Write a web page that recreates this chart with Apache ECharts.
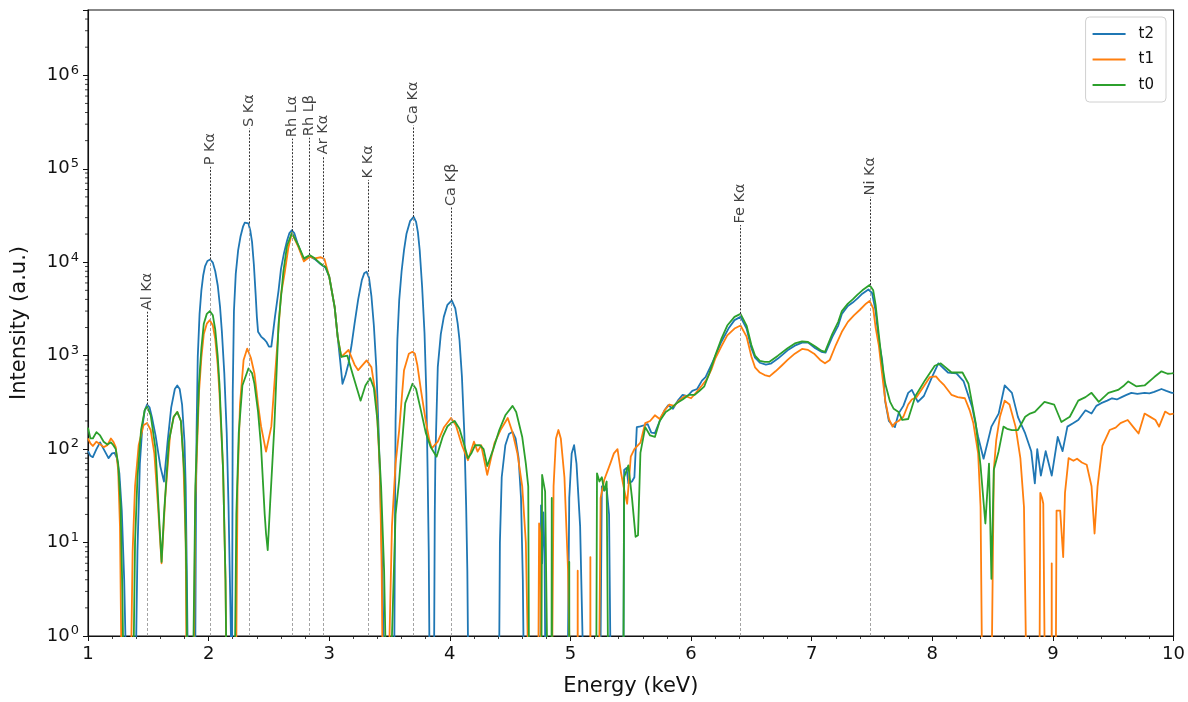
<!DOCTYPE html>
<html>
<head>
<meta charset="utf-8">
<script src="https://cdn.jsdelivr.net/npm/echarts@6/dist/echarts.min.js"></script>
<style>
  html, body { margin: 0; padding: 0; background: #fff; }
  #chart { width: 1188px; height: 702px; }
</style>
</head>
<body>
<div id="chart"></div>
<script>
// Off-scale reading (non-positive intensity, clipped below the log axis)
const OFF = 1e-3;

// XRF spectra: [energy keV, intensity a.u.]
const t2 = [
  [1.00,95],[1.02,85],[1.04,82],[1.07,100],[1.10,118],[1.13,100],[1.17,80],[1.20,90],[1.22,91],[1.24,80],[1.26,55],[1.28,22],[1.30,4],[1.31,1],[1.315,OFF],
  [1.395,OFF],[1.40,1],[1.41,8],[1.43,70],[1.45,170],[1.47,260],[1.49,300],[1.51,280],[1.53,220],[1.56,140],[1.60,65],[1.63,45],[1.66,120],[1.69,280],[1.72,440],[1.74,480],[1.76,440],[1.78,300],[1.80,120],[1.81,40],[1.82,4],[1.825,1],[1.83,OFF],
  [1.885,OFF],[1.89,1],[1.895,20],[1.90,150],[1.91,970],[1.925,2800],[1.94,5000],[1.955,7200],[1.97,9000],[1.99,10300],[2.013,10700],[2.035,9900],[2.055,8000],[2.076,5600],[2.095,3300],[2.11,1800],[2.13,650],[2.15,150],[2.165,25],[2.175,5],[2.185,1],[2.19,OFF],
  [2.195,1],[2.20,400],[2.21,3000],[2.225,7500],[2.245,13500],[2.265,19000],[2.285,24000],[2.30,26500],[2.315,27000],[2.33,26000],[2.345,22000],[2.36,16500],[2.375,9500],[2.39,4500],[2.40,2600],[2.41,1800],[2.435,1600],[2.46,1500],[2.48,1400],[2.50,1250],[2.52,1250],[2.55,2600],[2.58,5000],[2.60,8500],[2.625,12500],[2.65,17000],[2.67,20500],[2.69,22000],[2.71,20500],[2.74,15500],[2.79,10500],[2.84,11500],[2.88,10800],[2.93,9500],[2.97,8700],[3.00,7000],[3.045,3300],[3.07,1590],[3.09,900],[3.11,500],[3.135,620],[3.16,830],[3.185,1300],[3.21,2200],[3.24,4000],[3.27,6400],[3.29,7600],[3.31,7900],[3.33,6800],[3.35,4300],[3.37,2100],[3.39,760],[3.41,150],[3.425,30],[3.44,5],[3.45,1],[3.455,OFF],
  [3.535,OFF],[3.54,1],[3.55,200],[3.565,1500],[3.58,3900],[3.60,8000],[3.62,13500],[3.64,20000],[3.67,27500],[3.70,30500],[3.72,27000],[3.735,21000],[3.75,13500],[3.77,5500],[3.79,1740],[3.805,400],[3.815,65],[3.825,8],[3.83,1],[3.835,OFF],
  [3.865,OFF],[3.87,1],[3.875,20],[3.88,80],[3.90,760],[3.925,1700],[3.95,2600],[3.98,3500],[4.016,3900],[4.045,3200],[4.065,2200],[4.08,1470],[4.10,600],[4.12,148],[4.135,25],[4.145,5],[4.15,1],[4.155,OFF],
  [4.405,OFF],[4.41,1],[4.415,10],[4.43,50],[4.46,110],[4.49,145],[4.52,153],[4.545,130],[4.57,80],[4.59,30],[4.605,4],[4.61,1],[4.615,OFF],
  [4.75,OFF],[4.752,1],[4.756,25],[4.765,6],[4.775,21],[4.785,8],[4.79,1],[4.792,OFF],
  [4.975,OFF],[4.98,1],[4.99,30],[5.01,90],[5.03,110],[5.05,70],[5.08,15],[5.10,1],[5.105,OFF],
  [5.245,OFF],[5.25,1],[5.26,40],[5.28,36],[5.30,38],[5.32,20],[5.33,1],[5.335,OFF],
  [5.435,OFF],[5.44,1],[5.445,60],[5.465,63],[5.48,43],[5.51,45],[5.53,50],[5.55,172],[5.58,175],[5.61,180],[5.64,185],[5.67,150],[5.70,148],[5.74,200],[5.78,260],[5.81,295],[5.85,270],[5.89,330],[5.93,380],[5.97,370],[6.01,420],[6.05,440],[6.09,540],[6.12,590],[6.16,760],[6.20,980],[6.25,1400],[6.31,1950],[6.36,2400],[6.41,2600],[6.46,1950],[6.50,1200],[6.53,950],[6.57,840],[6.62,800],[6.66,820],[6.72,930],[6.80,1140],[6.86,1280],[6.92,1380],[6.97,1380],[7.03,1200],[7.08,1100],[7.115,1080],[7.17,1580],[7.22,2100],[7.25,2800],[7.30,3400],[7.34,3700],[7.38,4100],[7.42,4600],[7.47,5100],[7.50,4700],[7.53,3000],[7.556,1465],[7.584,900],[7.61,320],[7.64,200],[7.67,180],[7.69,172],[7.72,240],[7.76,290],[7.80,400],[7.83,430],[7.86,360],[7.88,320],[7.93,370],[8.00,600],[8.05,826],[8.13,660],[8.20,645],[8.26,530],[8.33,283],[8.38,135],[8.425,79],[8.49,174],[8.55,240],[8.60,480],[8.66,400],[8.71,220],[8.77,147],[8.82,95],[8.85,43],[8.87,100],[8.90,52],[8.94,95],[8.99,52],[9.04,135],[9.08,95],[9.12,174],[9.17,190],[9.21,205],[9.27,260],[9.32,240],[9.36,290],[9.40,310],[9.45,330],[9.49,350],[9.53,340],[9.57,360],[9.61,380],[9.65,400],[9.70,390],[9.76,400],[9.80,395],[9.84,410],[9.90,440],[9.94,420],[9.985,400],[10.0,400]
];

const t1 = [
  [1.00,130],[1.02,115],[1.04,108],[1.07,120],[1.10,113],[1.13,105],[1.16,110],[1.19,130],[1.21,120],[1.23,105],[1.25,60],[1.265,15],[1.275,1],[1.28,OFF],
  [1.355,OFF],[1.36,1],[1.37,8],[1.39,40],[1.42,110],[1.46,180],[1.49,190],[1.52,160],[1.55,90],[1.58,25],[1.61,6],[1.64,30],[1.68,140],[1.71,220],[1.74,250],[1.77,200],[1.79,80],[1.81,10],[1.815,1],[1.82,OFF],
  [1.875,OFF],[1.88,1],[1.89,30],[1.92,400],[1.94,950],[1.96,1700],[1.985,2200],[2.01,2400],[2.035,2100],[2.055,1500],[2.075,800],[2.09,400],[2.12,60],[2.14,4],[2.145,1],[2.15,OFF],
  [2.225,OFF],[2.23,1],[2.24,40],[2.26,300],[2.29,900],[2.32,1190],[2.35,950],[2.38,645],[2.41,300],[2.435,175],[2.476,94],[2.52,175],[2.55,600],[2.573,1500],[2.60,4500],[2.63,7600],[2.66,14000],[2.69,20500],[2.74,15000],[2.79,10200],[2.84,11500],[2.88,11000],[2.93,11300],[2.96,10800],[3.00,7000],[3.045,3300],[3.07,1590],[3.10,970],[3.16,1150],[3.21,800],[3.24,700],[3.31,890],[3.35,750],[3.39,350],[3.42,60],[3.435,5],[3.44,1],[3.445,OFF],
  [3.495,OFF],[3.50,1],[3.52,15],[3.55,70],[3.58,160],[3.62,700],[3.66,1050],[3.69,1100],[3.71,1050],[3.73,800],[3.76,430],[3.80,200],[3.83,125],[3.85,102],[3.90,120],[3.95,170],[4.01,215],[4.05,180],[4.10,110],[4.15,76],[4.20,120],[4.23,94],[4.26,110],[4.31,53],[4.37,116],[4.42,160],[4.48,215],[4.52,150],[4.56,90],[4.60,40],[4.63,10],[4.645,1],[4.65,OFF],
  [4.733,OFF],[4.735,1],[4.74,16],[4.75,12],[4.755,1],[4.757,OFF],
  [4.845,OFF],[4.85,1],[4.86,40],[4.88,130],[4.90,160],[4.92,130],[4.95,50],[4.98,5],[4.99,1],[4.995,OFF],
  [5.058,OFF],[5.06,5],[5.062,OFF],
  [5.163,OFF],[5.165,7],[5.167,OFF],
  [5.235,OFF],[5.24,1],[5.25,30],[5.28,47],[5.33,70],[5.36,90],[5.39,100],[5.42,55],[5.44,40],[5.47,26],[5.50,83],[5.53,100],[5.58,117],[5.62,190],[5.66,200],[5.70,230],[5.74,210],[5.78,260],[5.82,300],[5.86,290],[5.90,330],[5.95,370],[6.00,350],[6.04,400],[6.09,480],[6.13,560],[6.17,720],[6.20,930],[6.25,1250],[6.30,1650],[6.36,1950],[6.41,2100],[6.46,1600],[6.50,980],[6.53,750],[6.57,660],[6.61,620],[6.65,600],[6.70,680],[6.75,780],[6.80,900],[6.86,1050],[6.92,1180],[6.97,1150],[7.02,1050],[7.07,900],[7.11,830],[7.15,900],[7.20,1300],[7.25,1800],[7.30,2300],[7.35,2700],[7.40,3100],[7.45,3600],[7.48,3860],[7.51,3200],[7.53,2000],[7.556,1300],[7.58,700],[7.61,330],[7.64,210],[7.67,174],[7.69,190],[7.72,200],[7.76,222],[7.80,300],[7.83,340],[7.87,360],[7.92,450],[7.98,590],[8.03,600],[8.06,540],[8.10,480],[8.16,380],[8.21,360],[8.27,350],[8.31,260],[8.34,190],[8.38,90],[8.40,24],[8.41,1],[8.415,OFF],
  [8.49,OFF],[8.495,1],[8.51,60],[8.53,125],[8.56,220],[8.60,330],[8.64,300],[8.69,174],[8.73,80],[8.76,24],[8.775,1],[8.78,OFF],
  [8.885,OFF],[8.89,1],[8.895,34],[8.91,30],[8.92,26],[8.93,1],[8.935,OFF],
  [8.988,OFF],[8.99,6],[8.992,OFF],
  [9.02,OFF],[9.025,1],[9.03,22],[9.06,22],[9.085,7],[9.10,34],[9.13,80],[9.17,75],[9.20,79],[9.24,72],[9.28,68],[9.32,40],[9.345,12.5],[9.37,40],[9.41,108],[9.47,160],[9.52,170],[9.56,190],[9.62,205],[9.67,170],[9.71,147],[9.76,240],[9.81,220],[9.85,205],[9.88,174],[9.93,252],[9.97,235],[10.0,240]
];

const t0 = [
  [1.00,170],[1.02,130],[1.04,130],[1.07,152],[1.10,140],[1.13,120],[1.16,112],[1.19,118],[1.21,110],[1.23,100],[1.25,70],[1.27,25],[1.285,3],[1.29,1],[1.295,OFF],
  [1.375,OFF],[1.38,1],[1.39,10],[1.41,50],[1.44,160],[1.47,260],[1.49,284],[1.52,230],[1.56,100],[1.59,18],[1.61,6.2],[1.63,20],[1.67,120],[1.71,220],[1.74,250],[1.77,200],[1.80,50],[1.815,5],[1.82,1],[1.825,OFF],
  [1.87,OFF],[1.875,1],[1.89,40],[1.92,500],[1.94,1200],[1.96,2200],[1.985,2800],[2.01,3000],[2.035,2700],[2.055,1900],[2.075,1000],[2.09,500],[2.12,60],[2.14,4],[2.145,1],[2.15,OFF],
  [2.215,OFF],[2.22,1],[2.23,20],[2.25,150],[2.28,480],[2.33,730],[2.36,650],[2.38,500],[2.41,250],[2.435,105],[2.465,20],[2.476,12.5],[2.49,8.3],[2.51,26],[2.545,175],[2.58,2200],[2.62,8000],[2.65,15000],[2.69,20500],[2.74,15500],[2.79,11000],[2.84,11900],[2.88,11000],[2.93,9600],[2.97,8900],[3.00,7000],[3.045,3300],[3.07,1590],[3.10,970],[3.15,1000],[3.20,600],[3.26,330],[3.30,480],[3.34,575],[3.37,450],[3.40,200],[3.43,40],[3.455,5],[3.465,1],[3.47,OFF],
  [3.515,OFF],[3.52,1],[3.55,20],[3.58,47],[3.63,310],[3.69,500],[3.72,440],[3.76,260],[3.80,150],[3.84,106],[3.89,83],[3.94,135],[3.98,175],[4.01,190],[4.04,200],[4.08,165],[4.12,110],[4.15,80],[4.18,91],[4.21,110],[4.25,110],[4.28,100],[4.31,66],[4.36,100],[4.41,160],[4.46,230],[4.52,290],[4.55,250],[4.60,135],[4.63,70],[4.65,40],[4.655,1],[4.66,OFF],
  [4.755,OFF],[4.76,1],[4.765,53],[4.79,35],[4.805,1],[4.81,OFF],
  [4.84,OFF],[4.845,30],[4.85,OFF],
  [4.988,OFF],[4.99,6.2],[4.992,OFF],
  [5.21,OFF],[5.215,1],[5.22,55],[5.24,45],[5.26,50],[5.28,36],[5.30,45],[5.31,1],[5.315,OFF],
  [5.435,OFF],[5.44,1],[5.445,50],[5.48,67],[5.51,30],[5.54,11.5],[5.56,12],[5.58,91],[5.62,172],[5.66,140],[5.70,135],[5.74,200],[5.79,250],[5.83,270],[5.88,310],[5.93,340],[5.98,380],[6.03,380],[6.07,420],[6.11,470],[6.15,640],[6.20,1000],[6.25,1500],[6.30,2100],[6.36,2600],[6.41,2800],[6.46,2100],[6.50,1300],[6.53,1000],[6.57,880],[6.61,860],[6.65,860],[6.72,1000],[6.80,1200],[6.86,1350],[6.92,1420],[6.97,1400],[7.03,1250],[7.08,1130],[7.11,1100],[7.17,1700],[7.22,2300],[7.25,3000],[7.30,3600],[7.34,4000],[7.38,4500],[7.42,5000],[7.48,5700],[7.51,5000],[7.53,3500],[7.556,1700],[7.58,900],[7.61,500],[7.65,320],[7.68,270],[7.72,250],[7.75,205],[7.80,210],[7.86,370],[7.94,547],[8.02,780],[8.07,826],[8.16,660],[8.25,660],[8.30,500],[8.36,190],[8.40,66],[8.44,16],[8.47,70],[8.49,4.1],[8.51,60],[8.55,95],[8.59,174],[8.62,165],[8.66,160],[8.71,160],[8.77,222],[8.81,240],[8.85,250],[8.93,320],[9.01,300],[9.07,195],[9.14,222],[9.21,330],[9.27,360],[9.32,400],[9.38,320],[9.46,400],[9.54,430],[9.59,480],[9.625,530],[9.69,470],[9.76,480],[9.84,590],[9.90,680],[9.95,640],[9.985,645],[10.0,650]
];

// Emission-line markers
const lineNames    = ['Al Kα','P Kα','S Kα','Rh Lα','Rh Lβ','Ar Kα','K Kα','Ca Kα','Ca Kβ','Fe Kα','Ni Kα'];
const lineEnergies = [1.488, 2.011, 2.334, 2.691, 2.832, 2.948, 3.320, 3.693, 4.011, 6.405, 7.486];
const linePeaks    = [300, 10700, 26000, 21500, 12000, 11300, 7900, 30500, 3900, 2800, 5700];
const labelLevels  = [2950, 105000, 270000, 210000, 215000, 138000, 76000, 290000, 38500, 25000, 50000];

// Axis ranges and ticks
const X_MIN = 1, X_MAX = 10, Y_MIN = 1, Y_MAX = 5e6;
const yMinorTicks = [];
for (let p = 0; p <= 6; p++) {
  for (let k = 2; k <= 9; k++) {
    const v = k * Math.pow(10, p);
    if (v < Y_MAX) yMinorTicks.push([X_MIN, v]);
  }
}

const colors = { t2: '#1f77b4', t1: '#ff7f0e', t0: '#2ca02c' };
const FONT = 'DejaVu Sans';

const chart = echarts.init(document.getElementById('chart'), null, { renderer: 'canvas' });

const spectrum = (name, data) => ({
  name, type: 'line', data,
  showSymbol: false, symbol: 'none',
  lineStyle: { width: 1.8, color: colors[name], join: 'round' },
  itemStyle: { color: colors[name] },
  clip: true, animation: false, z: 3
});

const greyLines = lineEnergies.map((e, i) => [{ coord: [e, Y_MIN] }, { coord: [e, linePeaks[i]] }]);
const darkLines = lineEnergies.map((e, i) => [{ coord: [e, linePeaks[i]] }, { coord: [e, labelLevels[i]] }]);
const labelPoints = lineEnergies.map((e, i) => ({ value: [e, labelLevels[i]], name: lineNames[i] }));

chart.setOption({
  animation: false,
  backgroundColor: '#fff',
  textStyle: { fontFamily: FONT },
  grid: { left: 88, right: 13, top: 10, bottom: 66, show: true, borderColor: '#111', borderWidth: 1.1, backgroundColor: 'transparent' },
  legend: {
    data: ['t2', 't1', 't0'],
    orient: 'vertical', right: 22, top: 17,
    padding: [9, 12, 9, 7],
    icon: 'rect',
    itemWidth: 33, itemHeight: 2, itemGap: 9.5,
    backgroundColor: 'rgba(255,255,255,0.85)',
    borderColor: '#d0d0d0', borderWidth: 1, borderRadius: 4,
    textStyle: { fontFamily: FONT, fontSize: 15, lineHeight: 16, color: '#111', padding: [0, 0, 0, 8] }
  },
  xAxis: {
    type: 'value', min: X_MIN, max: X_MAX, interval: 1,
    name: 'Energy (keV)', nameLocation: 'middle', nameGap: 40,
    nameTextStyle: { fontFamily: FONT, fontSize: 21, color: '#111' },
    axisLine: { show: true, lineStyle: { color: '#111', width: 1.1 } },
    axisTick: { show: true, length: 5, lineStyle: { color: '#111', width: 1 } },
    minorTick: { show: true, splitNumber: 5, length: 3, lineStyle: { color: '#111', width: 0.8 } },
    axisLabel: { fontFamily: FONT, fontSize: 18, color: '#111', margin: 9 },
    splitLine: { show: false }
  },
  yAxis: {
    type: 'log', logBase: 10, min: Y_MIN, max: Y_MAX,
    name: 'Intensity (a.u.)', nameLocation: 'middle', nameGap: 58,
    nameTextStyle: { fontFamily: FONT, fontSize: 21, color: '#111' },
    axisLine: { show: true, lineStyle: { color: '#111', width: 1.1 } },
    axisTick: { show: true, length: 5, lineStyle: { color: '#111', width: 1 } },
    axisLabel: {
      margin: 9, color: '#111',
      formatter: (v) => {
        const e = Math.round(Math.log10(v));
        if (Math.abs(v - Math.pow(10, e)) > 1e-6 * v) return '';
        return '{b|10}{s|' + e + '}';
      },
      rich: {
        b: { fontFamily: FONT, fontSize: 18, color: '#111', lineHeight: 22 },
        s: { fontFamily: FONT, fontSize: 13, color: '#111', padding: [0, 0, 10, 1], lineHeight: 13 }
      }
    },
    splitLine: { show: false }
  },
  series: [
    spectrum('t2', t2),
    spectrum('t1', t1),
    spectrum('t0', t0),
    {
      // line-position guides and annotation labels
      type: 'scatter', data: labelPoints, symbol: 'circle', symbolSize: 1,
      itemStyle: { color: 'rgba(0,0,0,0)' }, silent: true, z: 2,
      label: {
        show: true, formatter: (p) => p.name, position: 'top', distance: 1,
        rotate: 90, align: 'left', verticalAlign: 'middle',
        fontFamily: FONT, fontSize: 14.5, color: '#111'
      },
      markLine: {
        silent: true, symbol: 'none', animation: false, label: { show: false },
        lineStyle: { color: '#9a9a9a', type: [3, 2], width: 0.9 },
        data: greyLines
      }
    },
    {
      type: 'scatter', data: [], silent: true, z: 2,
      markLine: {
        silent: true, symbol: 'none', animation: false, label: { show: false },
        lineStyle: { color: '#333', type: [2, 1.5], width: 1 },
        data: darkLines
      }
    },
    {
      // log-spaced minor ticks on the intensity axis
      type: 'custom', data: yMinorTicks, encode: { x: 0, y: 1 }, silent: true, clip: false, z: 5,
      renderItem: (params, api) => {
        const p = api.coord([api.value(0), api.value(1)]);
        return { type: 'line', shape: { x1: p[0] - 3, y1: p[1], x2: p[0], y2: p[1] }, style: { stroke: '#111', lineWidth: 0.8 } };
      }
    }
  ]
});
</script>
</body>
</html>
